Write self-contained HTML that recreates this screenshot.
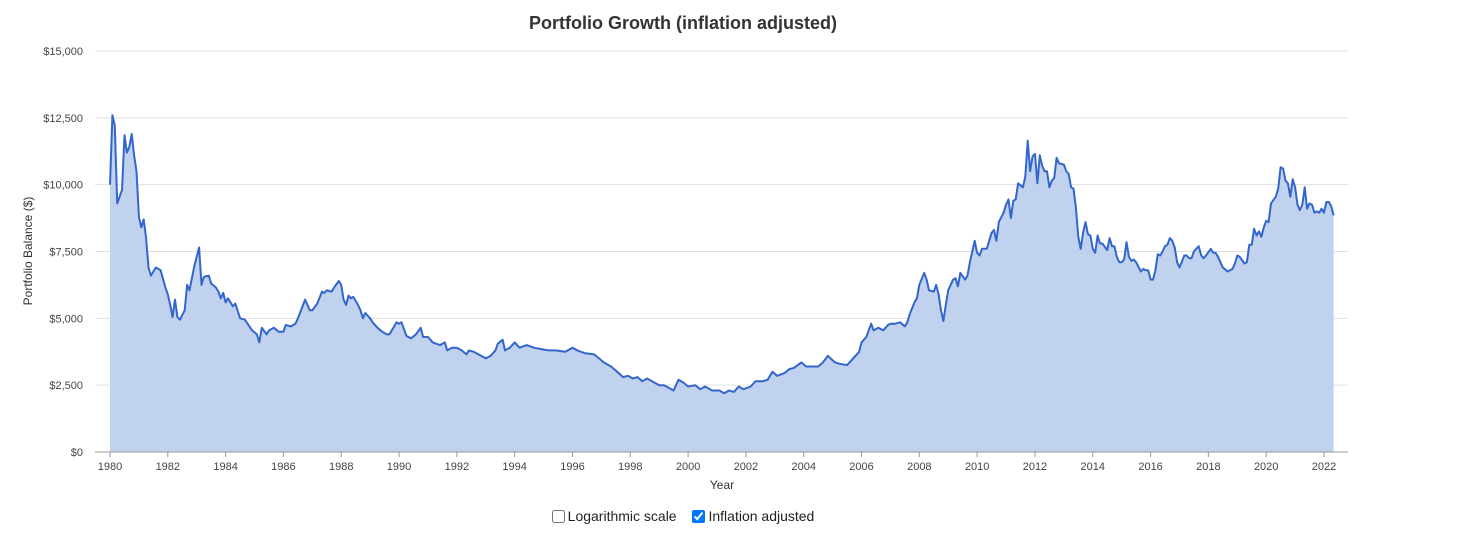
<!DOCTYPE html>
<html><head><meta charset="utf-8">
<style>
body{margin:0;background:#fff;font-family:"Liberation Sans",Arial,sans-serif;}
#wrap{position:relative;width:1469px;height:538px;}
svg text{font-family:"Liberation Sans",Arial,sans-serif;}
.ctrl{position:absolute;top:508px;left:0;width:1366px;text-align:center;font-size:14px;color:#222;}
.ctrl label{margin:0 6px;}
.ctrl input{margin:0 3px 0 0;vertical-align:-2px;width:13px;height:13px;}
</style></head>
<body>
<div id="wrap">
<svg id="chart" width="1469" height="538"></svg>
<div class="ctrl">
<label><input type="checkbox">Logarithmic scale</label>
<label><input type="checkbox" checked>Inflation adjusted</label>
</div>
</div>
<script>
const months = [0,1,2,3,5,6,7,8,9,10,11,12,13,14,15,16,17,19,21,23,24,25,26,27,28,29,31,32,33,34,35,37,38,39,41,42,44,45,46,47,48,49,51,52,54,56,59,61,62,63,65,66,68,70,72,73,75,77,78,81,83,84,86,88,89,90,92,93,95,96,97,98,99,100,101,103,104,105,106,108,109,111,113,115,116,117,119,120,121,123,125,127,129,130,132,134,137,139,140,142,144,146,148,149,151,153,156,158,160,161,163,164,166,168,170,173,176,179,182,185,189,192,194,197,201,203,205,208,210,213,215,217,219,221,223,225,228,230,232,234,236,238,240,243,245,247,250,253,255,257,259,261,263,266,268,271,273,275,277,280,282,284,287,289,291,294,296,298,301,303,306,308,311,312,314,316,317,319,321,323,324,326,328,330,331,332,334,335,336,338,339,340,342,343,344,345,346,347,348,350,351,352,353,355,356,357,359,360,361,362,364,365,366,367,368,369,371,372,373,374,375,376,377,379,380,381,382,383,384,385,386,387,388,389,390,391,392,393,394,396,397,398,399,400,401,402,403,404,405,406,407,408,409,410,411,412,414,415,416,417,418,419,420,421,422,423,424,425,426,428,429,430,431,432,433,434,435,436,437,438,439,440,441,442,443,444,446,447,448,449,450,452,453,454,455,457,458,459,460,461,462,464,466,467,468,469,471,472,473,474,475,476,477,478,479,480,481,482,484,485,486,487,488,489,490,491,492,493,494,495,496,497,498,499,500,501,502,503,504,505,506,507,508];
const balances = [10000,12600,12200,9300,9800,11850,11200,11400,11900,11100,10500,8800,8400,8700,8000,6900,6600,6900,6800,6150,5900,5500,5050,5700,5050,4950,5300,6250,6050,6500,6950,7650,6250,6550,6600,6300,6150,6000,5750,5950,5600,5750,5450,5550,5000,4950,4550,4400,4100,4650,4400,4550,4650,4500,4500,4750,4700,4800,5000,5700,5300,5300,5550,6000,5950,6050,6000,6150,6400,6250,5700,5500,5850,5750,5800,5500,5300,5000,5200,5000,4850,4650,4500,4400,4400,4550,4850,4800,4850,4350,4250,4400,4650,4300,4300,4100,4000,4100,3800,3900,3900,3800,3650,3800,3750,3650,3500,3600,3800,4050,4200,3800,3900,4100,3900,4000,3900,3850,3800,3800,3750,3900,3800,3700,3650,3500,3350,3200,3050,2800,2850,2750,2800,2650,2750,2650,2500,2500,2400,2300,2700,2600,2450,2500,2350,2450,2300,2300,2200,2300,2250,2450,2350,2450,2650,2650,2700,3000,2850,2950,3100,3150,3350,3200,3200,3200,3350,3600,3350,3300,3250,3450,3750,4100,4300,4800,4550,4650,4550,4750,4800,4800,4850,4700,4850,5150,5600,5750,6250,6700,6450,6050,6000,6250,5900,5300,4900,5500,6050,6450,6500,6200,6700,6450,6600,7100,7900,7450,7350,7600,7600,7900,8200,8300,7900,8600,8950,9250,9450,8750,9400,9450,10050,9900,10300,11650,10500,11050,11150,10050,11100,10700,10500,10500,9900,10150,10250,11000,10800,10750,10500,10400,9900,9850,9150,8050,7600,8200,8600,8150,8100,7600,7450,8100,7800,7800,7550,8000,7700,7700,7300,7100,7100,7200,7850,7300,7150,7200,7100,6750,6850,6800,6800,6450,6450,6800,7400,7350,7500,7700,7750,8000,7900,7650,7100,6900,7350,7350,7250,7250,7500,7700,7350,7250,7350,7600,7450,7450,7300,7100,6900,6750,6850,7050,7350,7300,7050,7100,7750,7750,8350,8100,8250,8050,8400,8650,8600,9300,9550,9850,10650,10600,10150,10050,9550,10200,9900,9250,9050,9250,9900,9100,9300,9250,8950,9000,8950,9100,8950,9350,9350,9200,8850];
const yTicks = [0,2500,5000,7500,10000,12500,15000];
const yTickLabels = ["$0","$2,500","$5,000","$7,500","$10,000","$12,500","$15,000"];
const xTickYears = [1980,1982,1984,1986,1988,1990,1992,1994,1996,1998,2000,2002,2004,2006,2008,2010,2012,2014,2016,2018,2020,2022];

const NS="http://www.w3.org/2000/svg";
const svg=document.getElementById('chart');
const X0=110, PXY=(1324-110)/42, Y0=452, YMAX=15000, YTOP=51;
const xMonth=m=>X0+m/12*PXY;
const xYear=y=>X0+(y-1980)*PXY;
const yVal=v=>Y0-(v/YMAX)*(Y0-YTOP);
function mk(tag,attrs,parent){const e=document.createElementNS(NS,tag);for(const k in attrs)e.setAttribute(k,attrs[k]);(parent||svg).appendChild(e);return e;}

const title=mk('text',{x:683,y:29,'text-anchor':'middle','font-size':18,'font-weight':'bold',fill:'#333'});
title.textContent='Portfolio Growth (inflation adjusted)';



yTicks.forEach((t,i)=>{
  const y=yVal(t);
  const g=mk('line',{x1:95,x2:1348,y1:y,y2:y,stroke:i===0?'#999':'#e0e0e0','stroke-width':1});
  
  
  const l=mk('text',{x:83,y:y+4,'text-anchor':'end','font-size':11,fill:'#444'});
  l.textContent=yTickLabels[i];
  
  
});

const yt=mk('text',{x:0,y:0,transform:'translate(32,251) rotate(-90)','text-anchor':'middle','font-size':12,fill:'#333'});
yt.textContent='Portfolio Balance ($)';



let d='M'+xMonth(months[0])+','+yVal(0);
months.forEach((m,i)=>{d+=' L'+xMonth(m).toFixed(1)+','+yVal(balances[i]).toFixed(1);});
d+=' L'+xMonth(months[months.length-1]).toFixed(1)+','+yVal(0)+' Z';
const area=mk('path',{d:d,fill:'#c1d2ef',stroke:'none'});


let ld='';
months.forEach((m,i)=>{ld+=(i?' L':'M')+xMonth(m).toFixed(1)+','+yVal(balances[i]).toFixed(1);});
const line=mk('path',{d:ld,fill:'none',stroke:'#3366cc','stroke-width':2,'stroke-linejoin':'round'});



const ax=mk('line',{x1:95,x2:1348,y1:Y0,y2:Y0,stroke:'#999','stroke-width':1});


xTickYears.forEach(yr=>{
  const x=xYear(yr);
  const t=mk('line',{x1:x,x2:x,y1:Y0,y2:Y0+5,stroke:'#999'});
  
  
  const l=mk('text',{x:x,y:470,'text-anchor':'middle','font-size':11,fill:'#444'});
  l.textContent=yr;
  
  
});
const xt=mk('text',{x:722,y:489,'text-anchor':'middle','font-size':12,fill:'#333'});
xt.textContent='Year';


</script>
</body></html>
